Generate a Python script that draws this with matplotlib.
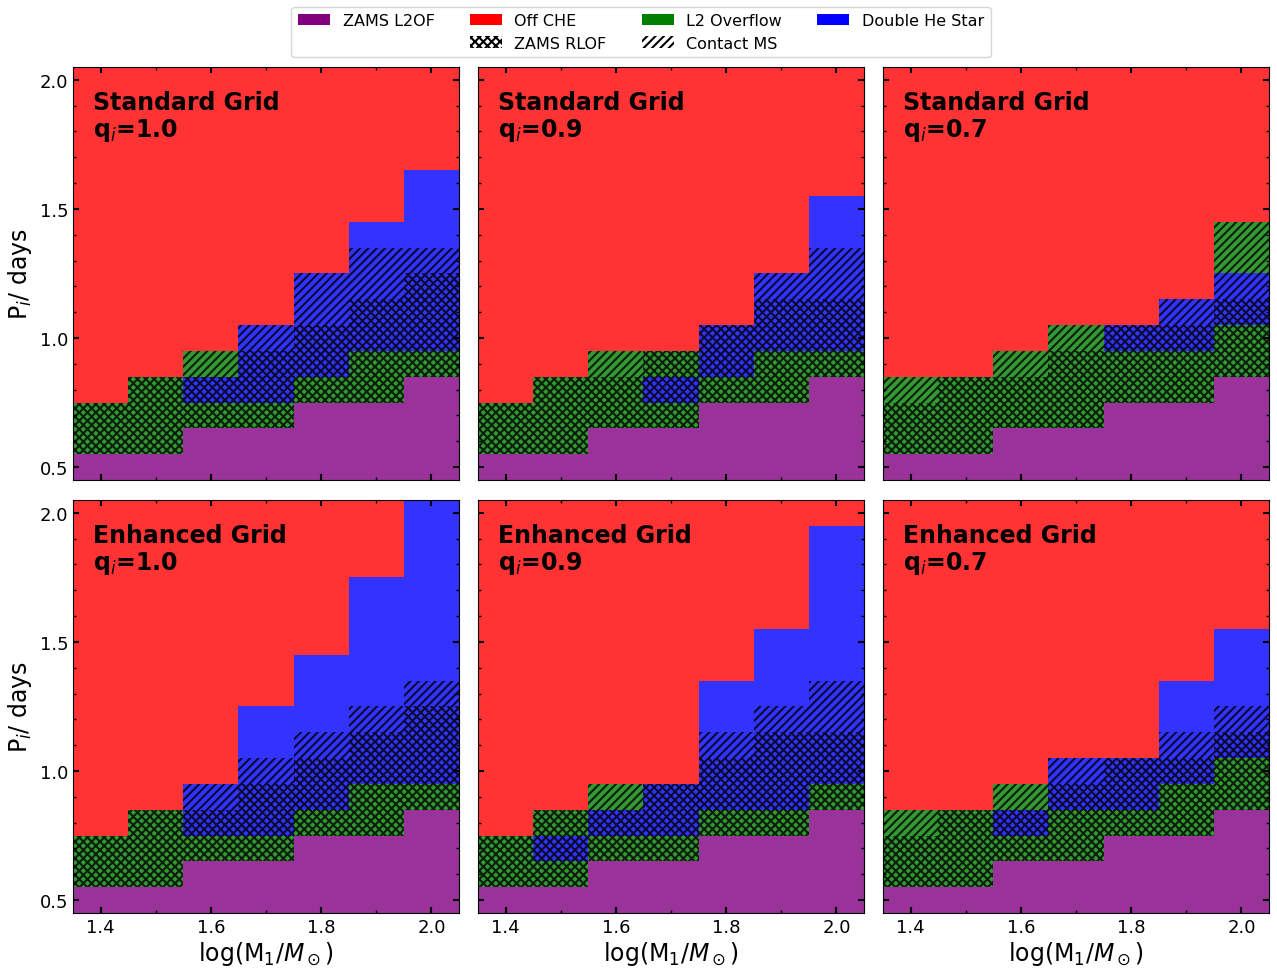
import matplotlib.pyplot as plt
from matplotlib.patches import Patch
from matplotlib.ticker import MultipleLocator

plt.rcParams['hatch.linewidth'] = 1.5

# log(M1/Msun) column centres and P_i row centres (0.5 ... 2.0)
masses = [1.4, 1.5, 1.6, 1.7, 1.8, 1.9, 2.0]
periods = [0.5 + 0.1 * k for k in range(16)]

# cell class per column, bottom (P=0.5) to top (P=2.0)
# P = ZAMS L2OF, R = Off CHE, G = L2 Overflow, B = Double He Star
# hatch: x = ZAMS RLOF, / = Contact MS, . = none
std_q10 = ["PGGRRRRRRRRRRRRR", "PGGGRRRRRRRRRRRR", "PPGBGRRRRRRRRRRR", "PPGBBBRRRRRRRRRR",
           "PPPGBBBBRRRRRRRR", "PPPGGBBBBBRRRRRR", "PPPPGBBBBBBBRRRR"]
std_q10_h = [".xx.............", ".xxx............", "..xx/...........", "..xxx/..........",
             "...xxx//........", "...xxxx//.......", "....xxxx/......."]

std_q09 = ["PGGRRRRRRRRRRRRR", "PGGGRRRRRRRRRRRR", "PPGGGRRRRRRRRRRR", "PPGBGRRRRRRRRRRR",
           "PPPGBBRRRRRRRRRR", "PPPGGBBBRRRRRRRR", "PPPPGBBBBBBRRRRR"]
std_q09_h = [".xx.............", ".xxx............", "..xx/...........", "..xxx...........",
             "...xxx..........", "...xxxx/........", "....xxx//......."]

std_q07 = ["PGGGRRRRRRRRRRRR", "PGGGRRRRRRRRRRRR", "PPGGGRRRRRRRRRRR", "PPGGGGRRRRRRRRRR",
           "PPPGGBRRRRRRRRRR", "PPPGGBBRRRRRRRRR", "PPPPGGBBGGRRRRRR"]
std_q07_h = [".xx/............", ".xxx............", "..xx/...........", "..xxx/..........",
             "...xxx..........", "...xxx/.........", "....xxx///......"]

enh_q10 = ["PGGRRRRRRRRRRRRR", "PGGGRRRRRRRRRRRR", "PPGBBRRRRRRRRRRR", "PPGBBBBBRRRRRRRR",
           "PPPGBBBBBBRRRRRR", "PPPGGBBBBBBBBRRR", "PPPPGBBBBBBBBBBB"]
enh_q10_h = [".xx.............", ".xxx............", "..xx/...........", "..xxx/..........",
             "...xxx/.........", "...xxxx/........", "....xxxx/......."]

enh_q09 = ["PGGRRRRRRRRRRRRR", "PGBGRRRRRRRRRRRR", "PPGBGRRRRRRRRRRR", "PPGBBRRRRRRRRRRR",
           "PPPGBBBBBRRRRRRR", "PPPGBBBBBBBRRRRR", "PPPPGBBBBBBBBBBR"]
enh_q09_h = [".xx.............", ".xxx............", "..xx/...........", "..xxx...........",
             "...xxx/.........", "...xxxx/........", "....xxx//......."]

enh_q07 = ["PGGGRRRRRRRRRRRR", "PGGGRRRRRRRRRRRR", "PPGBGRRRRRRRRRRR", "PPGGBBRRRRRRRRRR",
           "PPPGBBRRRRRRRRRR", "PPPGGBBBBRRRRRRR", "PPPPGGBBBBBRRRRR"]
enh_q07_h = [".xx/............", ".xxx............", "..xx/...........", "..xxx/..........",
             "...xxx..........", "...xxx/.........", "....xxx/........"]

panels = [("Standard Grid", "1.0", std_q10, std_q10_h),
          ("Standard Grid", "0.9", std_q09, std_q09_h),
          ("Standard Grid", "0.7", std_q07, std_q07_h),
          ("Enhanced Grid", "1.0", enh_q10, enh_q10_h),
          ("Enhanced Grid", "0.9", enh_q09, enh_q09_h),
          ("Enhanced Grid", "0.7", enh_q07, enh_q07_h)]

colours = {"P": "purple", "R": "red", "G": "green", "B": "blue"}
hatches = {"x": "xxxx", "/": "////", ".": None}

fig, axes = plt.subplots(2, 3, figsize=(12.77, 9.70), dpi=100, sharex=True, sharey=True)
fig.subplots_adjust(left=0.0572, right=0.9937, top=0.930, bottom=0.0577,
                    wspace=0.049, hspace=0.048)

for ax, (grid, q, cells, hat) in zip(axes.flat, panels):
    for m, col, hcol in zip(masses, cells, hat):
        for p, c, h in zip(periods, col, hcol):
            ax.bar(m, 0.1, width=0.1, bottom=p - 0.05, color=colours[c], alpha=0.8,
                   hatch=hatches[h], edgecolor="black", linewidth=0)
    ax.text(0.052, 0.945, grid + "\n" + r"q$_i$=" + q, transform=ax.transAxes,
            fontsize=17, fontweight="bold", va="top", ha="left", linespacing=1.1)
    ax.set_xlim(1.35, 2.05)
    ax.set_ylim(0.45, 2.05)
    ax.xaxis.set_major_locator(MultipleLocator(0.2))
    ax.xaxis.set_minor_locator(MultipleLocator(0.1))
    ax.yaxis.set_major_locator(MultipleLocator(0.5))
    ax.yaxis.set_minor_locator(MultipleLocator(0.1))
    ax.tick_params(which="both", direction="in", top=True, right=True, labelsize=13)
    ax.tick_params(which="major", length=4, width=1.5)
    ax.tick_params(which="minor", length=2, width=1)

for ax in axes[1]:
    ax.set_xlabel(r"log(M$_1/M_\odot$)", fontsize=17, labelpad=2)
for ax in axes[:, 0]:
    ax.set_ylabel(r"P$_i$/ days", fontsize=17)

handles = [Patch(facecolor="purple", label="ZAMS L2OF"),
           Patch(facecolor="none", edgecolor="none", label=" "),
           Patch(facecolor="red", label="Off CHE"),
           Patch(facecolor="white", edgecolor="black", linewidth=0, hatch="xxxx", label="ZAMS RLOF"),
           Patch(facecolor="green", label="L2 Overflow"),
           Patch(facecolor="white", edgecolor="black", linewidth=0, hatch="////", label="Contact MS"),
           Patch(facecolor="blue", label="Double He Star")]
fig.legend(handles=handles, loc="upper center", bbox_to_anchor=(0.502, 1.0), ncol=4,
           fontsize=11.5, handletextpad=0.8, columnspacing=2.2, borderpad=0.4,
           labelspacing=0.45)

plt.savefig("out.png", dpi=100)
